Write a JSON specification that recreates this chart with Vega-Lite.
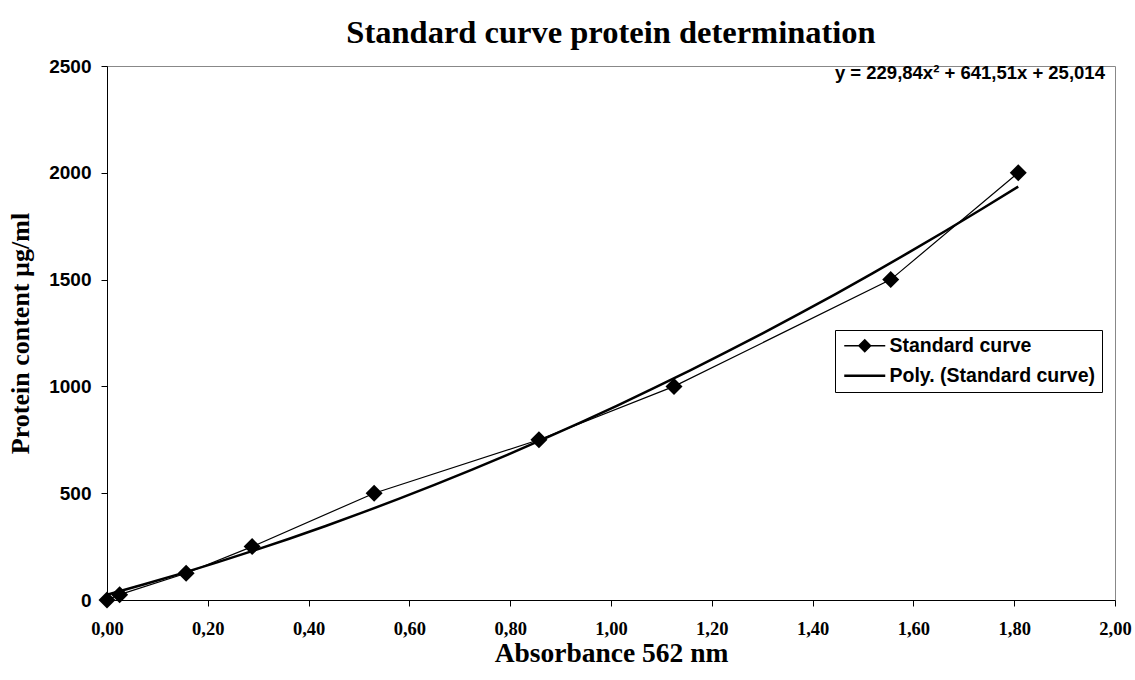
{
  "$schema": "https://vega.github.io/schema/vega-lite/v6.json",
  "width": 1008,
  "height": 534,
  "autosize": {"type": "none"},
  "padding": {"left": 107, "top": 66, "right": 20, "bottom": 80},
  "background": "white",
  "title": {
    "text": "Standard curve protein determination",
    "font": "Liberation Serif",
    "fontSize": 32.5,
    "fontWeight": "bold",
    "color": "black",
    "anchor": "middle",
    "frame": "group",
    "offset": 8
  },
  "config": {
    "view": {"stroke": "#888888", "strokeWidth": 1},
    "axis": {
      "grid": false,
      "domainColor": "black",
      "domainWidth": 1,
      "tickColor": "black",
      "tickSize": 6,
      "labelColor": "black",
      "titleColor": "black",
      "labelFontWeight": "bold",
      "titleFontWeight": "bold",
      "labelFlush": false,
      "labelOverlap": false
    }
  },
  "data": {
    "values": [
      {"x": 0.0, "y": 0},
      {"x": 0.025, "y": 25},
      {"x": 0.157, "y": 125},
      {"x": 0.288, "y": 250},
      {"x": 0.530, "y": 500},
      {"x": 0.857, "y": 750},
      {"x": 1.125, "y": 1000},
      {"x": 1.555, "y": 1500},
      {"x": 1.808, "y": 2000}
    ]
  },
  "layer": [
    {
      "transform": [{"regression": "y", "on": "x", "method": "poly", "order": 2}],
      "mark": {"type": "line", "strokeWidth": 2.5},
      "encoding": {
        "x": {
          "field": "x",
          "type": "quantitative",
          "scale": {"domain": [0, 2], "nice": false},
          "axis": {
            "title": "Absorbance 562 nm",
            "values": [0, 0.2, 0.4, 0.6, 0.8, 1.0, 1.2, 1.4, 1.6, 1.8, 2.0],
            "labelExpr": "replace(format(datum.value, '.2f'), '.', ',')",
            "labelFont": "Liberation Serif",
            "labelFontSize": 18.5,
            "labelPadding": 13,
            "titleFont": "Liberation Serif",
            "titleFontSize": 27.5,
            "titlePadding": 2
          }
        },
        "y": {
          "field": "y",
          "type": "quantitative",
          "scale": {"domain": [0, 2500], "nice": false},
          "axis": {
            "title": "Protein content µg/ml",
            "values": [0, 500, 1000, 1500, 2000, 2500],
            "format": "d",
            "labelFont": "Liberation Sans",
            "labelFontSize": 19,
            "labelPadding": 10,
            "titleFont": "Liberation Serif",
            "titleFontSize": 26,
            "titlePadding": 15
          }
        },
        "color": {
          "datum": "Poly. (Standard curve)",
          "scale": {"domain": ["Standard curve", "Poly. (Standard curve)"], "range": ["black", "black"]},
          "legend": {
            "title": null,
            "orient": "none",
            "legendX": 728,
            "legendY": 264,
            "strokeColor": "black",
            "fillColor": "white",
            "padding": 6,
            "rowPadding": 9,
            "cornerRadius": 0,
            "symbolOffset": 14,
            "labelOffset": 15,
            "labelLimit": 400,
            "labelFont": "Liberation Sans",
            "labelFontWeight": "bold",
            "labelFontSize": 19.5,
            "labelColor": "black",
            "encode": {
              "symbols": {
                "update": {
                  "size": {"value": 400},
                  "shape": {"signal": "datum.value === 'Standard curve' ? 'M-2.05,0L2.05,0M-0.6,0L0,-0.6L0.6,0L0,0.6Z' : 'M-2.05,0L2.05,0'"},
                  "fill": {"signal": "datum.value === 'Standard curve' ? 'black' : 'transparent'"},
                  "stroke": {"value": "black"},
                  "strokeWidth": {"signal": "datum.value === 'Standard curve' ? 1.3 : 2.5"}
                }
              }
            }
          }
        }
      }
    },
    {
      "mark": {"type": "line", "strokeWidth": 1.2},
      "encoding": {
        "x": {"field": "x", "type": "quantitative"},
        "y": {"field": "y", "type": "quantitative"},
        "color": {"datum": "Standard curve"}
      }
    },
    {
      "mark": {"type": "point", "shape": "diamond", "filled": true, "size": 289, "color": "black", "opacity": 1},
      "encoding": {
        "x": {"field": "x", "type": "quantitative"},
        "y": {"field": "y", "type": "quantitative"}
      }
    },
    {
      "data": {"values": [{"label": "y = 229,84x² + 641,51x + 25,014"}]},
      "mark": {"type": "text", "align": "right", "baseline": "middle", "font": "Liberation Sans", "fontWeight": "bold", "fontSize": 18.5, "fill": "black"},
      "encoding": {
        "x": {"datum": 1.98, "type": "quantitative"},
        "y": {"datum": 2468, "type": "quantitative"},
        "text": {"field": "label", "type": "nominal"}
      }
    }
  ]
}
